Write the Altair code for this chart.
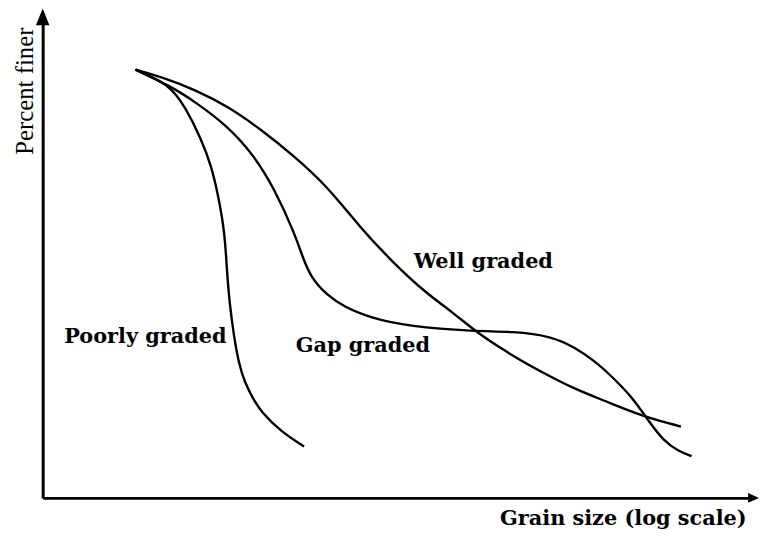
import altair as alt
import pandas as pd

# Schematic grain-size distribution curves (x: grain size index, y: percent finer)
poorly_x = [13.1, 17.8, 20.1, 22.4, 23.8, 24.8, 25.7, 26.0, 26.4, 27.0, 27.7, 28.5, 29.7, 30.8, 33.6, 36.9]
poorly_y = [88.2, 85.3, 80.6, 73.9, 68.4, 62.2, 54.7, 46.9, 39.8, 33.3, 27.6, 23.9, 20.4, 17.8, 13.7, 10.6]

gap_x = [13.1, 18.2, 21.5, 26.2, 29.9, 32.7, 35.5, 36.6, 37.8, 40.1, 42.5, 46.2, 51.7, 61.1,
         66.3, 71.9, 75.1, 77.9, 79.7, 83.1, 85.3, 87.7, 89.8, 91.6]
gap_y = [88.2, 84.7, 81.6, 76.5, 70.4, 63.7, 54.7, 50.0, 45.5, 41.8, 39.4, 37.1, 35.3, 34.3,
         34.3, 33.3, 31.0, 28.2, 25.9, 21.0, 16.3, 11.6, 9.6, 8.6]

well_x = [13.1, 16.8, 21.5, 26.2, 30.8, 35.5, 40.1, 44.8, 49.5, 54.1, 57.9, 61.1, 64.9, 68.1,
          70.5, 75.1, 79.7, 84.5, 90.1]
well_y = [88.2, 86.7, 84.1, 80.6, 75.9, 70.4, 64.3, 55.7, 48.4, 42.2, 38.2, 34.3, 30.6, 27.8,
          25.9, 22.4, 19.8, 16.9, 14.7]

label_text = ["Poorly graded", "Gap graded", "Well graded"]
label_x = [14.5, 45.2, 62.2]
label_y = [32.0, 30.0, 47.3]

X_MAX = 100
Y_MAX = 100

rows = []
for name, xs, ys in [("Poorly graded", poorly_x, poorly_y),
                     ("Gap graded", gap_x, gap_y),
                     ("Well graded", well_x, well_y)]:
    for i, (a, b) in enumerate(zip(xs, ys)):
        rows.append({"series": name, "order": i, "size": a, "finer": b})
curves = pd.DataFrame(rows)
labels = pd.DataFrame({"text": label_text, "size": label_x, "finer": label_y})

xscale = alt.Scale(domain=[0, X_MAX], nice=False, zero=False)
yscale = alt.Scale(domain=[0, Y_MAX], nice=False, zero=False)

x_axis = alt.Axis(
    title="Grain size (log scale)", labels=False, ticks=False, grid=False,
    domainColor="black", domainWidth=2.6,
    titleFont="DejaVu Serif", titleFontSize=21, titleFontWeight="bold", titleColor="black",
    titleAlign="right", titleBaseline="alphabetic", titleX=710, titleY=27,
)
y_axis = alt.Axis(
    title="Percent finer", labels=False, ticks=False, grid=False,
    domainColor="black", domainWidth=3,
    titleFont="Liberation Serif", titleFontSize=25, titleFontWeight="normal", titleColor="black",
    titleAngle=270, titleAlign="center", titleBaseline="alphabetic", titleX=-10, titleY=79,
)

lines = alt.Chart(curves).mark_line(
    interpolate="basis", color="black", strokeWidth=2.4
).encode(
    x=alt.X("size:Q", scale=xscale, axis=x_axis),
    y=alt.Y("finer:Q", scale=yscale, axis=y_axis),
    detail="series:N",
    order="order:Q",
)

text = alt.Chart(labels).mark_text(
    font="DejaVu Serif", fontSize=21, fontWeight="bold", color="black",
    align="center", baseline="alphabetic"
).encode(
    x=alt.X("size:Q", scale=xscale),
    y=alt.Y("finer:Q", scale=yscale),
    text="text:N",
)

y_arrow = alt.Chart(pd.DataFrame({"size": [0], "finer": [Y_MAX]})).mark_point(
    shape="M0,-1L0.8,1L-0.8,1Z", size=289, filled=True, color="black", opacity=1, yOffset=4.5
).encode(x=alt.X("size:Q", scale=xscale), y=alt.Y("finer:Q", scale=yscale))

x_arrow = alt.Chart(pd.DataFrame({"size": [X_MAX], "finer": [0]})).mark_point(
    shape="M1,0L-1,0.9L-1,-0.9Z", size=121, filled=True, color="black", opacity=1, xOffset=2.5
).encode(x=alt.X("size:Q", scale=xscale), y=alt.Y("finer:Q", scale=yscale))

chart = alt.layer(lines, text, y_arrow, x_arrow).properties(
    width=715, height=490,
    autosize=alt.AutoSizeParams(type="none"),
    padding={"left": 35, "top": 2, "right": 8, "bottom": 36},
    background="white",
).configure_view(stroke=None)

chart.save("out.html", embed_options={"renderer": "svg", "actions": False})
